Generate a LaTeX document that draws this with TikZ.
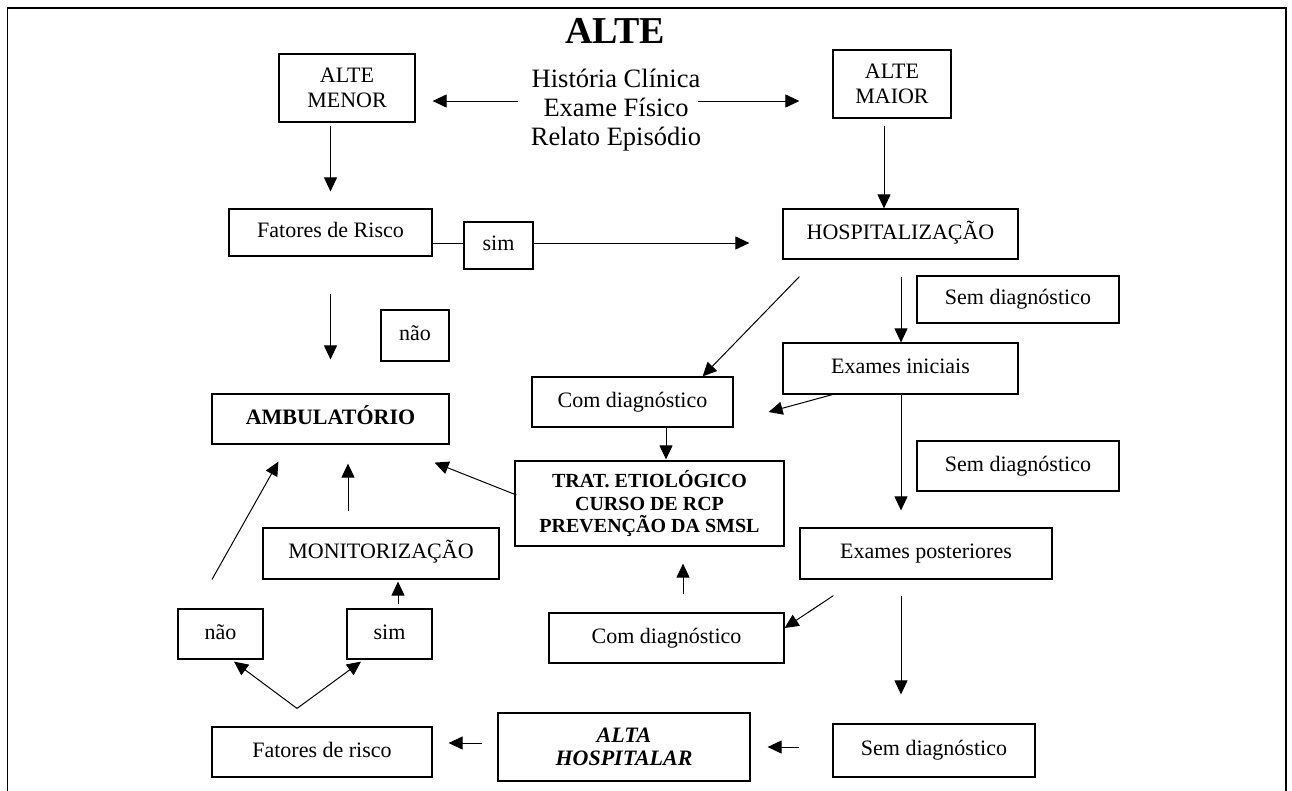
\documentclass[tikz,border=0pt]{standalone}
\usepackage{fontspec}
\setmainfont{Liberation Serif}
\usetikzlibrary{arrows.meta}
\newcommand{\fsz}[2]{\fontsize{#1}{#2}\selectfont}
\begin{document}
\begin{tikzpicture}[x=1pt,y=-1pt,
  box/.style={draw, line width=1.2pt, inner sep=0pt, align=center, font=\fsz{22}{25}},
  one/.style={text height=15pt, text depth=5pt},
  bsz/.style 2 args={minimum width=#1, minimum height=#2},
  arr/.style={line width=1pt, -{Triangle[length=14pt,width=13pt]}},
  ln/.style={line width=1pt}]
\useasboundingbox (0,0) rectangle (1292,790);
% frame
\draw[line width=1.3pt] (7.5,795) -- (7.5,8) -- (1286,8) -- (1286,795);
% nodes
\node[font=\bfseries\fsz{38}{40}, anchor=base] (title) at (615,43) {ALTE};
\node[align=center, inner sep=0pt, font=\fsz{26.5}{29}] (hist) at (616,110) {História Clínica\\Exame Físico\\Relato Episódio};
\node[box, bsz={136pt}{68pt}] (menor) at (347,88) {ALTE\\MENOR};
\node[box, bsz={118pt}{68pt}] (maior) at (892,84) {ALTE\\MAIOR};
\node[box, one, bsz={235pt}{50pt}] (hosp) at (900.5,234) {HOSPITALIZAÇÃO};
\node[box, one, bsz={203pt}{47pt}] (fr1) at (330.5,232.5) {Fatores de Risco};
\node[box, one, bsz={69pt}{47pt}] (sim1) at (498.5,245.5) {sim};
\node[box, one, bsz={68pt}{51pt}] (nao1) at (415,335.5) {não};
\node[box, one, bsz={237pt}{50pt}, font=\bfseries\fsz{22}{25}] (amb) at (330.5,419) {AMBULATÓRIO};
\node[box, one, bsz={202pt}{47pt}] (sem1) at (1018,299.5) {Sem diagnóstico};
\node[box, one, bsz={235pt}{51pt}] (exi) at (900.5,368.5) {Exames iniciais};
\node[box, one, bsz={201pt}{50pt}] (cd1) at (632.5,402) {Com diagnóstico};
\node[box, bsz={269pt}{85pt}, font=\bfseries\fsz{20}{22.5}] (trat) at (649.5,503.5) {TRAT. ETIOLÓGICO\\CURSO DE RCP\\PREVENÇÃO DA SMSL};
\node[box, one, bsz={202pt}{50pt}] (sem2) at (1018,466) {Sem diagnóstico};
\node[box, one, bsz={252pt}{51pt}] (exp) at (926,553.5) {Exames posteriores};
\node[box, one, bsz={236pt}{51pt}] (mon) at (381,553.5) {MONITORIZAÇÃO};
\node[box, one, bsz={85pt}{50pt}] (nao2) at (220.5,634) {não};
\node[box, one, bsz={85pt}{50pt}] (sim2) at (389.5,634) {sim};
\node[box, one, bsz={235pt}{50pt}] (cd2) at (666.5,638) {Com diagnóstico};
\node[box, one, bsz={220pt}{50pt}] (fr2) at (322,752) {Fatores de risco};
\node[box, bsz={252pt}{68pt}, font=\bfseries\itshape\fsz{22}{23}] (alta) at (624,747) {ALTA\\HOSPITALAR};
\node[box, one, bsz={202pt}{53pt}] (sem3) at (934,750.5) {Sem diagnóstico};
% connectors
\draw[arr] ([shift={(-13,-9)}]hist.west) -- ([shift={(17,13)}]menor.east);
\draw[arr] ([shift={(-3,-9)}]hist.east) -- ([shift={(-33,17)}]maior.west);
\draw[arr] ([shift={(-16.5,3)}]menor.south) -- ([shift={(0,-17)}]fr1.north);
\draw[arr] ([shift={(-8,7)}]maior.south) -- ([shift={(-16.5,0)}]hosp.north);
\draw[ln] ([shift={(0,10.5)}]fr1.east) -- ([shift={(0,-2.5)}]sim1.west);
\draw[arr] ([shift={(0,-2.5)}]sim1.east) -- ([shift={(-33,9)}]hosp.west);
\draw[arr] ([shift={(0,37)}]fr1.south) -- ([shift={(0,-34)}]amb.north);
\draw[arr] ([shift={(17,17)}]hosp.south west) -- ([shift={(-31,0)}]cd1.north east);
\draw[arr] ([shift={(0.5,17)}]hosp.south) -- ([shift={(0.5,0)}]exi.north);
\draw[arr] ([shift={(50,0)}]exi.south west) -- ([shift={(35,10)}]cd1.east);
\draw[arr] ([shift={(33.5,0)}]cd1.south) -- ([shift={(16.5,-1)}]trat.north);
\draw[arr] ([shift={(0.5,0)}]exi.south) -- ([shift={(-25,-17)}]exp.north);
\draw[arr] ([shift={(34,16)}]exp.south west) -- ([shift={(0,-10)}]cd2.east);
\draw[arr] ([shift={(-25,16)}]exp.south) -- ([shift={(-33,-29)}]sem3.north);
\draw[arr] ([shift={(16.5,-18)}]cd2.north) -- ([shift={(33.5,17)}]trat.south);
\draw[arr] ([shift={(2,-8.5)}]trat.west) -- ([shift={(-15,18)}]amb.south east);
\draw[arr] ([shift={(-33,-3.5)}]sem3.west) -- ([shift={(17,0)}]alta.east);
\draw[arr] ([shift={(-15,-4)}]alta.west) -- ([shift={(16,-9)}]fr2.east);
\coordinate (v) at ([shift={(-25,-18)}]fr2.north);
\draw[arr] (v) -- ([shift={(13.5,2)}]nao2.south);
\draw[arr] (v) -- ([shift={(-28.5,2)}]sim2.south);
\draw[arr] ([shift={(-8.5,-29)}]nao2.north) -- ([shift={(67,17)}]amb.south west);
\draw[arr] ([shift={(8.5,-4)}]sim2.north) -- ([shift={(17,2)}]mon.south);
\draw[arr] ([shift={(-33,-16)}]mon.north) -- ([shift={(17.5,19)}]amb.south);
\end{tikzpicture}
\end{document}
